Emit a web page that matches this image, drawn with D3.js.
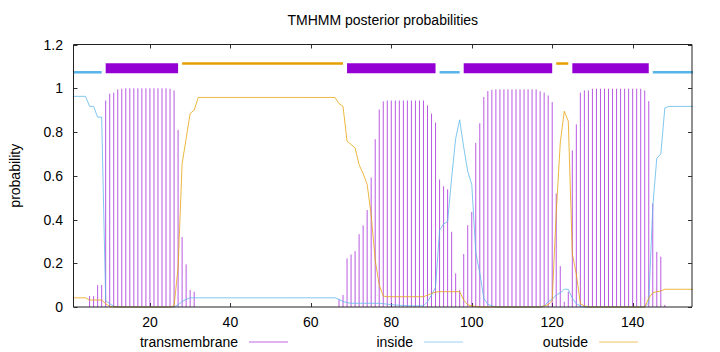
<!DOCTYPE html>
<html>
<head>
<meta charset="utf-8">
<script src="https://cdn.jsdelivr.net/npm/d3@7"></script>
<style>
  html, body { margin:0; padding:0; background:#fff; }
  svg { display:block; font-family: "Liberation Sans", Arial, sans-serif; }
</style>
</head>
<body>
<div id="chart"></div>
<script>
// TMHMM posterior probabilities – one value per residue (1..155)
const TITLE   = "TMHMM posterior probabilities";
const Y_LABEL = "probability";
const SEQ_LEN = 155;
const X_TICKS = [20, 40, 60, 80, 100, 120, 140];
const Y_TICKS = [0, 0.2, 0.4, 0.6, 0.8, 1, 1.2];

const tmProb = [
  0, 0, 0, 0, 0.05, 0.05, 0.10, 0.10, 0.944, 0.975,
  0.98, 0.995, 0.998, 1, 1, 1, 1, 1, 1, 1,
  1, 1, 1, 1, 0.998, 0.99, 0.81, 0.32, 0.195, 0.078,
  0.07, 0, 0, 0, 0, 0, 0, 0, 0, 0,
  0, 0, 0, 0, 0, 0, 0, 0, 0, 0,
  0, 0, 0, 0, 0, 0, 0, 0, 0, 0,
  0, 0, 0, 0, 0, 0, 0.035, 0.055, 0.222, 0.24,
  0.255, 0.333, 0.373, 0.443, 0.592, 0.767, 0.903, 0.94, 0.944, 0.944,
  0.944, 0.944, 0.944, 0.944, 0.944, 0.944, 0.944, 0.944, 0.922, 0.884,
  0.843, 0.583, 0.552, 0.538, 0.344, 0.154, 0.078, 0.242, 0.374, 0.435,
  0.75, 0.84, 0.96, 0.987, 0.993, 0.995, 0.995, 0.995, 0.995, 0.995,
  0.995, 0.995, 0.995, 0.995, 0.995, 0.995, 0.986, 0.98, 0.967, 0.937,
  0.519, 0.187, 0.024, 0.07, 0.716, 0.835, 0.98, 0.99, 0.99, 0.998,
  0.998, 0.998, 0.998, 0.998, 0.998, 0.998, 0.998, 0.998, 0.998, 0.998,
  0.998, 0.998, 0.99, 0.941, 0.473, 0.252, 0.23, 0.01, 0, 0,
  0, 0, 0, 0, 0
];

const insideProb = [
  0.963, 0.963, 0.963, 0.963, 0.917, 0.917, 0.868, 0.868, 0.03, 0.015,
  0.004, 0, 0, 0, 0, 0, 0, 0, 0, 0,
  0, 0, 0, 0, 0, 0, 0.01, 0.025, 0.035, 0.042,
  0.042, 0.042, 0.042, 0.042, 0.042, 0.042, 0.042, 0.042, 0.042, 0.042,
  0.042, 0.042, 0.042, 0.042, 0.042, 0.042, 0.042, 0.042, 0.042, 0.042,
  0.042, 0.042, 0.042, 0.042, 0.042, 0.042, 0.042, 0.042, 0.042, 0.042,
  0.042, 0.042, 0.042, 0.042, 0.042, 0.042, 0.035, 0.025, 0.02, 0.017,
  0.017, 0.017, 0.017, 0.017, 0.017, 0.017, 0.017, 0.015, 0.013, 0.011,
  0.009, 0.008, 0.007, 0.006, 0.005, 0.005, 0.005, 0.006, 0.024, 0.055,
  0.09, 0.35, 0.38, 0.39, 0.59, 0.77, 0.856, 0.73, 0.62, 0.56,
  0.25, 0.155, 0.04, 0.012, 0.005, 0, 0, 0, 0, 0,
  0, 0, 0, 0, 0, 0, 0, 0.005, 0.025, 0.035,
  0.055, 0.065, 0.081, 0.081, 0.04, 0.015, 0.005, 0, 0, 0,
  0, 0, 0, 0, 0, 0, 0, 0, 0, 0,
  0, 0, 0, 0.02, 0.46, 0.68, 0.70, 0.91, 0.917, 0.917,
  0.917, 0.917, 0.917, 0.917, 0.917
];

const outsideProb = [
  0.042, 0.042, 0.042, 0.042, 0.032, 0.032, 0.032, 0.032, 0.015, 0.003,
  0, 0, 0, 0, 0, 0, 0, 0, 0, 0,
  0, 0, 0, 0, 0, 0.005, 0.18, 0.655, 0.77, 0.885,
  0.9, 0.958, 0.958, 0.958, 0.958, 0.958, 0.958, 0.958, 0.958, 0.958,
  0.958, 0.958, 0.958, 0.958, 0.958, 0.958, 0.958, 0.958, 0.958, 0.958,
  0.958, 0.958, 0.958, 0.958, 0.958, 0.958, 0.958, 0.958, 0.958, 0.958,
  0.958, 0.958, 0.958, 0.958, 0.958, 0.958, 0.93, 0.917, 0.758, 0.743,
  0.728, 0.65, 0.61, 0.56, 0.42, 0.215, 0.10, 0.05, 0.047, 0.047,
  0.047, 0.047, 0.047, 0.047, 0.047, 0.047, 0.047, 0.047, 0.054, 0.062,
  0.068, 0.07, 0.07, 0.07, 0.07, 0.07, 0.07, 0.032, 0.01, 0.005,
  0.003, 0, 0, 0, 0, 0, 0, 0, 0, 0,
  0, 0, 0, 0, 0, 0, 0, 0.005, 0.01, 0.03,
  0.43, 0.75, 0.895, 0.85, 0.244, 0.15, 0.015, 0.005, 0, 0,
  0, 0, 0, 0, 0, 0, 0, 0, 0, 0,
  0, 0, 0, 0.04, 0.065, 0.07, 0.073, 0.081, 0.081, 0.081,
  0.081, 0.081, 0.081, 0.081, 0.081
];

// predicted topology: [kind, first residue, last residue]
const topology = [
  ["inside", 1, 8], ["TMhelix", 9, 27], ["outside", 28, 68], ["TMhelix", 69, 91],
  ["inside", 92, 97], ["TMhelix", 98, 120], ["outside", 121, 124], ["TMhelix", 125, 144],
  ["inside", 145, 155]
];
const TOPO_LEVEL = { inside: 1.073, TMhelix: 1.091, outside: 1.113 };

const LEGEND = [["transmembrane", "TMhelix"], ["inside", "inside"], ["outside", "outside"]];

/* ---------- styles ---------- */
const COLOR = { TMhelix: "#9400d3", inside: "#56b4e9", outside: "#e69f00" };
const W = 720, H = 352;
const box = { left: 73.5, right: 692, top: 44.5, bottom: 307 };
const FONT = 14;

/* ---------- draw ---------- */
const svg = d3.select("#chart").append("svg")
  .attr("width", W)
  .attr("height", H);

const x = d3.scaleLinear().domain([1, SEQ_LEN]).range([box.left, box.right + 1]);
const y = d3.scaleLinear().domain([0, 1.2]).range([box.bottom, box.top]);

// title + y label
svg.append("text")
  .attr("x", (box.left + box.right) / 2).attr("y", 24.5)
  .attr("text-anchor", "middle").attr("font-size", FONT)
  .text(TITLE);

svg.append("text")
  .attr("transform", `translate(19.5,${(box.top + box.bottom) / 2}) rotate(-90)`)
  .attr("text-anchor", "middle").attr("font-size", FONT)
  .text(Y_LABEL);

// ticks (inward, mirrored) + labels
const TL = 4;
const ticks = svg.append("g").attr("stroke", "#333").attr("stroke-width", 1);
X_TICKS.forEach(t => {
  const px = Math.round(x(t)) + 0.5;
  ticks.append("line").attr("x1", px).attr("x2", px).attr("y1", y(0)).attr("y2", y(0) - TL);
  ticks.append("line").attr("x1", px).attr("x2", px).attr("y1", y(1.2)).attr("y2", y(1.2) + TL);
});
Y_TICKS.forEach(t => {
  const py = Math.round(y(t)) + 0.5;
  ticks.append("line").attr("x1", box.left).attr("x2", box.left + TL).attr("y1", py).attr("y2", py);
  ticks.append("line").attr("x1", box.right).attr("x2", box.right - TL).attr("y1", py).attr("y2", py);
});

svg.append("g").selectAll("text").data(X_TICKS).join("text")
  .attr("x", d => x(d)).attr("y", 327)
  .attr("text-anchor", "middle").attr("font-size", FONT)
  .text(d => d);

svg.append("g").selectAll("text").data(Y_TICKS).join("text")
  .attr("x", 63).attr("y", d => y(d) + 5)
  .attr("text-anchor", "end").attr("font-size", FONT)
  .text(d => d3.format("~g")(d));

// transmembrane impulses
const recs = tmProb.map((p, i) => ({ pos: i + 1, tm: p, inside: insideProb[i], outside: outsideProb[i] }));

svg.append("g").selectAll("line").data(recs.filter(d => d.tm > 0)).join("line")
  .attr("x1", d => x(d.pos)).attr("x2", d => x(d.pos))
  .attr("y1", y(0)).attr("y2", d => y(d.tm))
  .attr("stroke", COLOR.TMhelix)
  .attr("stroke-opacity", 0.65)
  .attr("stroke-width", 1);

// inside / outside curves
["inside", "outside"].forEach(k => {
  svg.append("path")
    .datum(recs)
    .attr("fill", "none")
    .attr("stroke", COLOR[k])
    .attr("stroke-opacity", 0.75)
    .attr("stroke-width", 1)
    .attr("d", d3.line().x(d => x(d.pos)).y(d => y(d[k])));
});

// topology bars on top
svg.append("g").selectAll("line").data(topology).join("line")
  .attr("x1", d => x(d[1])).attr("x2", d => x(d[2]))
  .attr("y1", d => y(TOPO_LEVEL[d[0]])).attr("y2", d => y(TOPO_LEVEL[d[0]]))
  .attr("stroke", d => COLOR[d[0]])
  .attr("stroke-width", d => d[0] === "TMhelix" ? 10 : 2.5);

// frame
svg.append("path")
  .attr("d", `M${box.left},${box.top}H${box.right}V${box.bottom}H${box.left}Z`)
  .attr("fill", "none")
  .attr("stroke", "#222")
  .attr("stroke-width", 1);

// legend
const leg = svg.append("g").selectAll("g").data(LEGEND).join("g")
  .attr("transform", (d, i) => `translate(${249 + i * 175},342)`);
leg.append("text")
  .attr("x", -11).attr("y", 5)
  .attr("text-anchor", "end").attr("font-size", FONT)
  .text(d => d[0]);
leg.append("line")
  .attr("x1", 0).attr("x2", 39).attr("y1", 0).attr("y2", 0)
  .attr("stroke", d => COLOR[d[1]])
  .attr("stroke-opacity", 0.6)
  .attr("stroke-width", 1);
</script>
</body>
</html>
